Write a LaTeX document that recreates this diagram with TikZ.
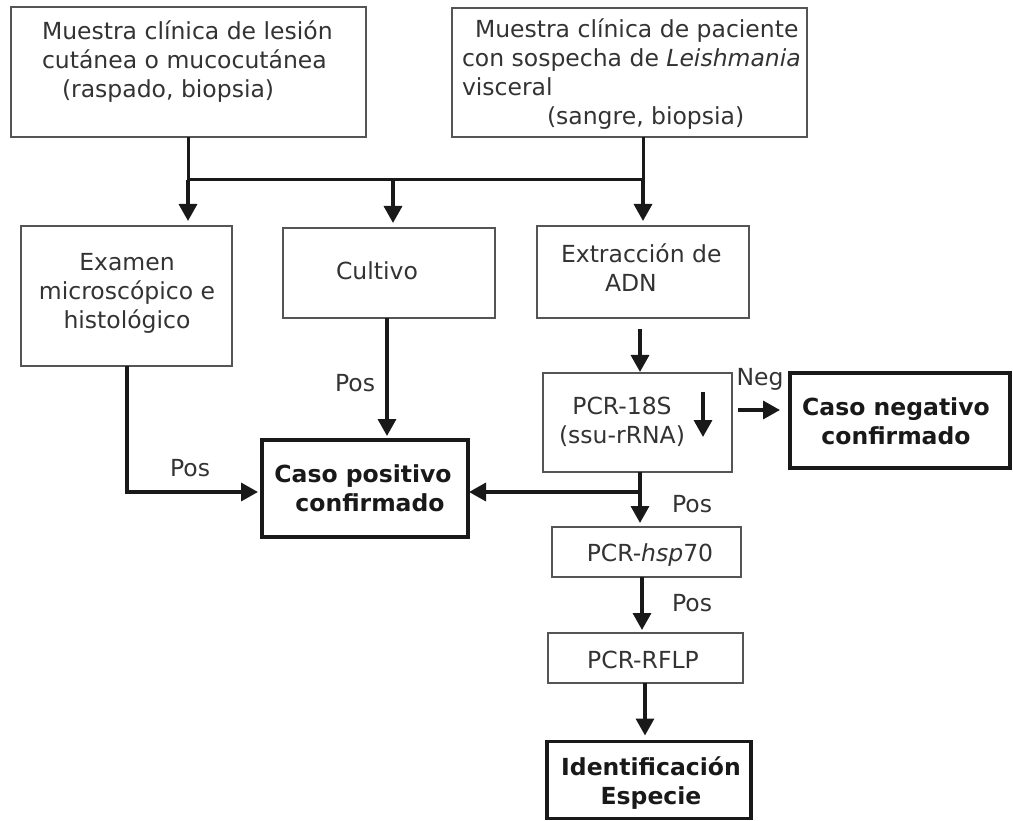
\documentclass[tikz,border=0pt]{standalone}
\usepackage{fontspec}
\setmainfont{DejaVu Sans}
\usetikzlibrary{arrows.meta}
\definecolor{txt}{HTML}{333333}
\definecolor{boxline}{HTML}{555555}
\begin{document}
\begin{tikzpicture}[x=1pt,y=-1pt,
  every node/.style={inner sep=0pt, outer sep=0pt},
  thinbox/.style={draw=boxline, line width=1.8pt},
  thickbox/.style={draw=black!90, line width=3.6pt},
  txtnode/.style={text=txt, font=\fontsize{23.5}{29}\selectfont},
  boldnode/.style={text=black!90, font=\fontsize{23.5}{29}\selectfont\bfseries},
  lbl/.style={text=txt, font=\fontsize{23.5}{29}\selectfont},
  conn/.style={draw=black!90, line width=3.4pt},
  arr/.style={conn, -{Triangle[length=17pt,width=18pt]}},
]
\useasboundingbox (0,0) rectangle (1013,821);

% boxes
\node[thinbox, minimum width=355pt, minimum height=130pt] (b1) at (188.5,72) {};
\node[thinbox, minimum width=355pt, minimum height=129pt] (b2) at (629.5,72.5) {};
\node[thinbox, minimum width=211pt, minimum height=140pt] (bex) at (126.5,296) {};
\node[thinbox, minimum width=212pt, minimum height=90pt] (bcu) at (389,273) {};
\node[thinbox, minimum width=212pt, minimum height=92pt] (bad) at (643,272) {};
\node[thinbox, minimum width=189pt, minimum height=99pt] (bpcr) at (637.5,422.5) {};
\node[thickbox, minimum width=220pt, minimum height=95pt] (bneg) at (900,420.5) {};
\node[thickbox, minimum width=206pt, minimum height=97pt] (bpos) at (365,488.5) {};
\node[thinbox, minimum width=189pt, minimum height=50pt] (bhsp) at (646.5,552) {};
\node[thinbox, minimum width=195pt, minimum height=50pt] (brf) at (645.5,658) {};
\node[thickbox, minimum width=204pt, minimum height=77pt] (bid) at (649,780) {};

% texts
\node[txtnode, align=left, anchor=west] (t1) at (42,62)
  {Muestra clínica de lesión\\cutánea o mucocutánea\\\hspace*{20pt}(raspado, biopsia)};
\node[txtnode, align=left, anchor=west] (t2) at (462,74)
  {\hspace*{13pt}Muestra clínica de paciente\\con sospecha de \textit{Leishmania}\\visceral\\\hspace*{85pt}(sangre, biopsia)};
\node[txtnode, align=center] (tex) at (127,293) {Examen\\microscópico e\\histológico};
\node[txtnode] (tcu) at (377,271) {Cultivo};
\node[txtnode, align=left, anchor=west] (tad) at (561,268) {Extracción de\\\hspace*{44pt}ADN};
\node[txtnode, align=center] (tpcr) at (622,422) {PCR-18S\\(ssu-rRNA)};
\node[boldnode, align=center] (tneg) at (896,421) {Caso negativo\\confirmado};
\node[boldnode, align=center] (tpos) at (363,488) {Caso positivo\\\hspace*{14pt}confirmado};
\node[txtnode] (thsp) at (650,555) {PCR-\textit{hsp}70};
\node[txtnode] (trf) at (643,660) {PCR-RFLP};
\node[boldnode, align=center] (tid) at (651,783) {Identificación\\Especie};

% labels
\node[lbl] (lneg) at (760,379) {Neg};
\node[lbl] (lpos1) at (190,468) {Pos};
\node[lbl] (lpos2) at (355,383) {Pos};
\node[lbl] (lpos3) at (692,504) {Pos};
\node[lbl] (lpos4) at (692,603) {Pos};

% junctions
\coordinate (j1) at (188,180);
\coordinate (j2) at (393,180);
\coordinate (j3) at (643,180);
\coordinate (jp) at (640,492);
\coordinate (jex) at (127,492);
\coordinate (jc) at (387,0);
\coordinate (jh) at (642,0);
\coordinate (jr) at (645,0);
\coordinate (nga) at (0,410);
\coordinate (ia1) at (703,392);
\coordinate (ia2) at (703,437);

% connectors
\draw[conn, line width=3pt] (b1.south -| j1) -- (j1);
\draw[conn, line width=3pt] (j1) -- (j3);
\draw[conn, line width=3pt] (b2.south -| j3) -- (j3);
\draw[arr, shorten >=5pt] (j1) -- (bex.north -| j1);
\draw[arr, shorten >=5pt] (j2) -- (bcu.north -| j2);
\draw[arr, shorten >=5pt] (j3) -- (bad.north -| j3);
\draw[arr, shorten <=11pt, shorten >=1pt] (bad.south -| jp) -- (bpcr.north -| jp);
\draw[arr] (ia1) -- (ia2);
\draw[arr, shorten <=6pt, shorten >=10pt] (bpcr.east |- nga) -- (bneg.west |- nga);
\draw[conn] (bpcr.south -| jp) -- (jp);
\draw[arr, shorten >=4pt] (jp) -- (bhsp.north -| jp);
\draw[arr, shorten >=1pt] (jp) -- (bpos.east |- jp);
\draw[arr, shorten >=4pt] (bex.south -| jex) -- (jex) -- (bpos.west |- jex);
\draw[arr, shorten >=4pt] (bcu.south -| jc) -- (bpos.north -| jc);
\draw[arr, shorten >=3pt] (bhsp.south -| jh) -- (brf.north -| jh);
\draw[arr, shorten >=6pt] (brf.south -| jr) -- (bid.north -| jr);
\end{tikzpicture}
\end{document}
